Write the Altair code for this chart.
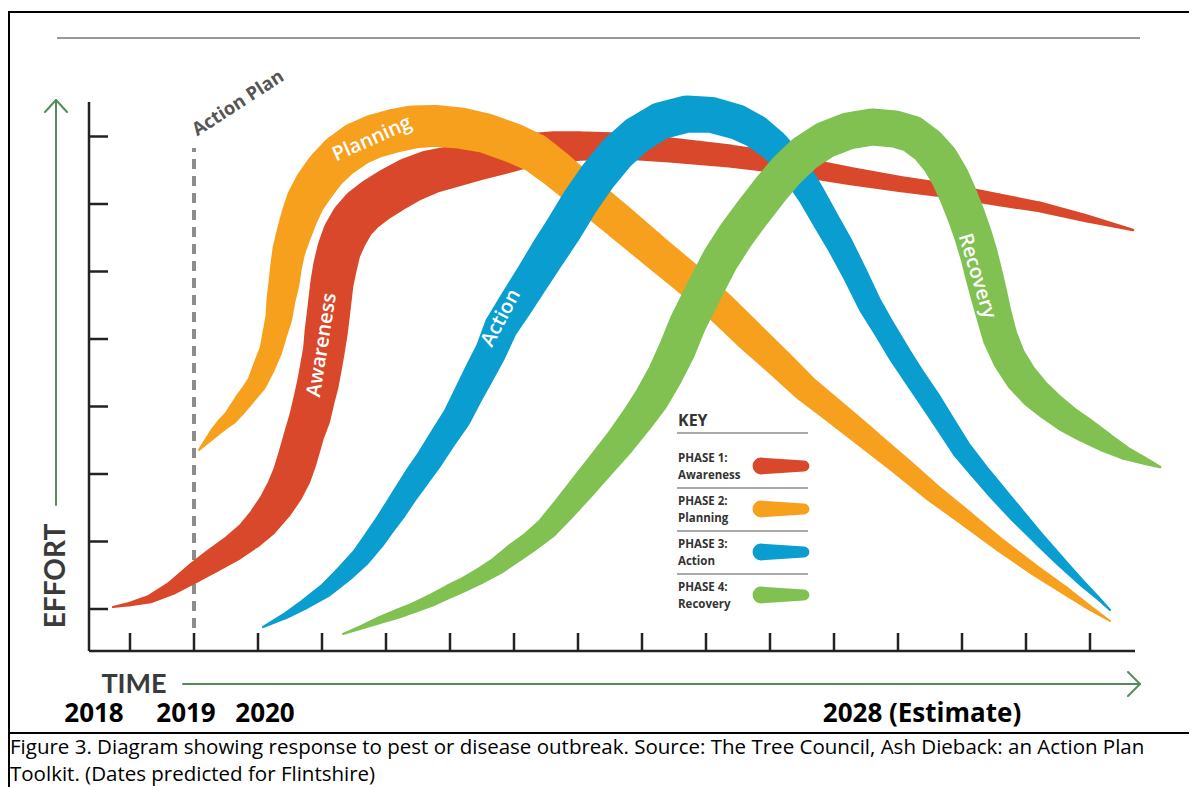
import altair as alt
import pandas as pd

# ---------------- data ----------------
phases = ["Awareness", "Planning", "Action", "Recovery"]
phase_colors = ["#D9482B", "#F6A01D", "#0A9DCF", "#80C152"]

# centre line of each band: time step (one per tick), effort level (one per tick), band thickness (effort units)
aw_time = [0.734, 1.0, 1.313, 1.656, 2.0, 2.313, 2.609, 2.875, 3.078, 3.281, 3.422, 3.531, 3.609, 3.672, 3.734,
           3.813, 3.875, 3.938, 3.984, 4.031, 4.063, 4.094, 4.125, 4.156, 4.203, 4.266, 4.359, 4.484, 4.641,
           4.844, 5.094, 5.375, 5.688, 6.078, 6.469, 6.859, 7.25, 7.641, 8.031, 8.5, 8.969, 9.438, 9.906,
           10.375, 10.844, 11.469, 12.25, 13.031, 13.813, 14.594, 15.219, 15.922, 16.672]
aw_effort = [1.030, 1.074, 1.148, 1.311, 1.533, 1.726, 1.904, 2.096, 2.289, 2.541, 2.763, 2.985, 3.207, 3.415,
             3.622, 3.844, 4.096, 4.348, 4.585, 4.837, 5.089, 5.326, 5.578, 5.830, 6.067, 6.319, 6.541, 6.748,
             6.911, 7.059, 7.207, 7.356, 7.474, 7.563, 7.652, 7.726, 7.8, 7.844, 7.859, 7.859, 7.844, 7.8,
             7.756, 7.711, 7.652, 7.548, 7.415, 7.296, 7.193, 7.059, 6.956, 6.793, 6.615]
aw_width = [0.03, 0.07, 0.13, 0.21, 0.30, 0.36, 0.40, 0.44, 0.49, 0.53, 0.56, 0.58, 0.59, 0.59, 0.59,
            0.61, 0.61, 0.62, 0.62, 0.62, 0.64, 0.64, 0.64, 0.64, 0.65, 0.65, 0.67, 0.67, 0.68,
            0.68, 0.68, 0.67, 0.65, 0.62, 0.59, 0.55, 0.50, 0.47, 0.44, 0.41, 0.40, 0.37, 0.36,
            0.34, 0.33, 0.30, 0.27, 0.24, 0.22, 0.19, 0.16, 0.12, 0.04]

pl_time = [2.078, 2.203, 2.328, 2.453, 2.578, 2.688, 2.781, 2.891, 2.984, 3.094, 3.203, 3.266, 3.328, 3.359,
           3.406, 3.438, 3.484, 3.563, 3.656, 3.75, 3.891, 4.063, 4.281, 4.547, 4.828, 5.109, 5.422, 5.766,
           6.156, 6.547, 6.984, 7.328, 7.641, 8.141, 8.656, 9.172, 9.703, 10.219, 10.688, 11.125, 11.547,
           12.016, 12.516, 13.031, 13.547, 14.078, 14.594, 15.109, 15.641, 16.0, 16.313]
pl_effort = [3.356, 3.489, 3.622, 3.741, 3.844, 3.978, 4.096, 4.230, 4.348, 4.585, 4.837, 5.089, 5.326, 5.578,
             5.830, 6.067, 6.319, 6.570, 6.837, 7.059, 7.281, 7.504, 7.711, 7.889, 8.007, 8.081, 8.141, 8.156,
             8.126, 8.052, 7.904, 7.756, 7.533, 7.133, 6.733, 6.319, 5.904, 5.474, 5.044, 4.659, 4.274,
             3.919, 3.533, 3.133, 2.719, 2.333, 1.948, 1.593, 1.252, 1.015, 0.822]
pl_width = [0.03, 0.09, 0.15, 0.19, 0.22, 0.25, 0.27, 0.28, 0.30, 0.33, 0.34, 0.37, 0.40, 0.43,
            0.46, 0.47, 0.49, 0.52, 0.55, 0.58, 0.61, 0.62, 0.64, 0.65, 0.65, 0.65, 0.64, 0.62,
            0.61, 0.59, 0.59, 0.58, 0.56, 0.53, 0.52, 0.50, 0.49, 0.47, 0.46, 0.43, 0.40,
            0.37, 0.34, 0.31, 0.28, 0.24, 0.20, 0.17, 0.13, 0.08, 0.03]

ac_time = [3.078, 3.422, 3.734, 4.063, 4.359, 4.609, 4.813, 5.0, 5.141, 5.313, 5.484, 5.672, 5.891, 6.109,
           6.281, 6.469, 6.641, 6.797, 7.047, 7.297, 7.531, 7.766, 8.031, 8.313, 8.609, 8.922, 9.281, 9.703,
           10.094, 10.484, 10.766, 11.031, 11.266, 11.469, 11.656, 11.859, 12.094, 12.328, 12.563, 12.797,
           13.031, 13.266, 13.5, 13.75, 14.0, 14.266, 14.516, 14.859, 15.219, 15.563, 15.891, 16.125, 16.313]
ac_effort = [0.733, 0.896, 1.074, 1.281, 1.533, 1.770, 2.022, 2.274, 2.467, 2.719, 2.956, 3.207, 3.533, 3.844,
             4.170, 4.511, 4.822, 5.178, 5.548, 5.919, 6.274, 6.615, 7.030, 7.415, 7.756, 8.022, 8.230, 8.333,
             8.319, 8.215, 8.081, 7.889, 7.667, 7.4, 7.119, 6.778, 6.393, 5.963, 5.504, 5.133,
             4.763, 4.422, 4.096, 3.726, 3.356, 3.044, 2.763, 2.393, 2.022, 1.681, 1.370, 1.163, 0.985]
ac_width = [0.03, 0.10, 0.16, 0.22, 0.27, 0.30, 0.33, 0.34, 0.36, 0.37, 0.39, 0.40, 0.41, 0.43,
            0.44, 0.46, 0.47, 0.50, 0.52, 0.53, 0.55, 0.56, 0.56, 0.56, 0.56, 0.56, 0.55, 0.55,
            0.53, 0.52, 0.50, 0.47, 0.44, 0.43, 0.41, 0.40, 0.39, 0.37, 0.36, 0.34,
            0.34, 0.33, 0.33, 0.31, 0.30, 0.28, 0.27, 0.24, 0.19, 0.15, 0.10, 0.06, 0.03]

rc_time = [4.328, 4.625, 4.906, 5.172, 5.422, 5.719, 6.0, 6.234, 6.469, 6.734, 6.984, 7.25, 7.516, 7.766,
           8.031, 8.344, 8.656, 8.938, 9.156, 9.359, 9.547, 9.719, 9.969, 10.219, 10.469, 10.734, 11.0,
           11.266, 11.547, 11.859, 12.219, 12.594, 12.953, 13.219, 13.469, 13.656, 13.813, 13.938, 14.063,
           14.172, 14.266, 14.344, 14.422, 14.5, 14.594, 14.734, 14.922, 15.141, 15.375, 15.641, 15.922,
           16.234, 16.547, 16.859, 17.094]
rc_effort = [0.630, 0.733, 0.837, 0.926, 1.015, 1.133, 1.267, 1.370, 1.489, 1.637, 1.815, 1.993, 2.2, 2.467,
             2.763, 3.119, 3.474, 3.830, 4.126, 4.467, 4.837, 5.237, 5.711, 6.170, 6.541, 6.881, 7.207,
             7.504, 7.756, 7.948, 8.081, 8.141, 8.111, 8.037, 7.859, 7.652, 7.4, 7.133, 6.837,
             6.541, 6.244, 5.948, 5.652, 5.356, 5.030, 4.719, 4.437, 4.2, 4.007, 3.815, 3.652,
             3.474, 3.311, 3.193, 3.104]
rc_width = [0.03, 0.07, 0.12, 0.15, 0.16, 0.19, 0.21, 0.22, 0.24, 0.27, 0.30, 0.31, 0.34, 0.37,
            0.40, 0.43, 0.46, 0.49, 0.52, 0.53, 0.55, 0.55, 0.55, 0.55, 0.55, 0.55, 0.55,
            0.55, 0.55, 0.55, 0.55, 0.55, 0.55, 0.55, 0.55, 0.56, 0.56, 0.56, 0.56,
            0.56, 0.56, 0.56, 0.55, 0.53, 0.52, 0.50, 0.49, 0.47, 0.44, 0.41, 0.37,
            0.30, 0.21, 0.12, 0.04]

x_ticks = list(range(1, 17))
y_ticks = list(range(1, 9))
year_labels = ["2018", "2019", "2020", "2028 (Estimate)"]
caption_lines = [
    "Figure 3. Diagram showing response to pest or disease outbreak. Source: The Tree Council, Ash Dieback: an Action Plan",
    "Toolkit. (Dates predicted for Flintshire)",
]

# ---------------- layout helpers (page pixels -> chart units) ----------------
def U(sx):
    return (sx - 66) / 64.0


def V(sy):
    return (676.5 - sy) / 67.5


W, H = 1181, 779
xs = alt.Scale(domain=[U(8), U(8 + W)], nice=False, zero=False)
ys = alt.Scale(domain=[V(8 + H), V(8)], nice=False, zero=False)
ws = alt.Scale(domain=[0, 1], range=[0, 67.5], zero=True)

X = lambda f: alt.X(f, type="quantitative", scale=xs, axis=None)
Y = lambda f: alt.Y(f, type="quantitative", scale=ys, axis=None)


def band(t, e, w, color):
    df = pd.DataFrame({"t": t, "e": e, "w": w, "i": list(range(len(t)))})
    return alt.Chart(df).mark_trail(color=color, opacity=1).encode(
        x=X("t"), y=Y("e"),
        size=alt.Size("w:Q", scale=ws, legend=None),
        order=alt.Order("i:Q"),
    )


def segs(rows, color, width, dash=None, cap="butt"):
    df = pd.DataFrame(rows, columns=["x", "y", "x2", "y2"])
    kw = dict(color=color, strokeWidth=width, strokeCap=cap)
    if dash:
        kw["strokeDash"] = dash
    return alt.Chart(df).mark_rule(**kw).encode(
        x=X("x"), y=Y("y"), x2=alt.X2("x2"), y2=alt.Y2("y2"))


def px_segs(rows, color, width, dash=None, cap="butt"):
    return segs([(U(a), V(b), U(c), V(d)) for a, b, c, d in rows], color, width, dash, cap)


def txt(text, sx, sy, size, color, weight="normal", angle=0, font="Open Sans", align="center"):
    df = pd.DataFrame({"x": [U(sx)], "y": [V(sy)], "t": [text]})
    kw = dict(font=font, fontSize=size, color=color, fontWeight=weight, align=align, baseline="middle")
    if angle:
        kw["angle"] = angle
    return alt.Chart(df).mark_text(**kw).encode(x=X("x"), y=Y("y"), text="t:N")


layers = []

# frame and header line
layers.append(px_segs([(8, 12, 1196, 12), (9, 12, 9, 790), (8, 733, 1196, 733)], "#000000", 2))
layers.append(px_segs([(57, 38, 1140, 38)], "#333333", 1.2))

# axes built from the tick arrays
ax_x0, ax_y0 = U(89), V(651)
axis_rows = [(ax_x0, ax_y0, ax_x0, V(102)), (ax_x0, ax_y0, U(1135), ax_y0)]
axis_rows += [(ax_x0, k, U(108), k) for k in y_ticks]
axis_rows += [(k, ax_y0, k, V(633)) for k in x_ticks]
layers.append(segs(axis_rows, "#222222", 2.5))

# action plan dashed marker
layers.append(segs([(2.0, V(628), 2.0, V(148))], "#8C8C8C", 4, dash=[10, 7]))

# green arrows
arrow_green = "#558B5B"
layers.append(px_segs([(56, 505, 56, 100), (45, 112, 56, 100), (67, 112, 56, 100),
                       (183, 684, 1140, 684), (1128, 672, 1140, 684), (1128, 696, 1140, 684)],
                      arrow_green, 2, cap="round"))

# bands (z-order: awareness, planning, action, recovery)
layers.append(band(aw_time, aw_effort, aw_width, phase_colors[0]))
layers.append(band(pl_time, pl_effort, pl_width, phase_colors[1]))
layers.append(band(ac_time, ac_effort, ac_width, phase_colors[2]))
layers.append(band(rc_time, rc_effort, rc_width, phase_colors[3]))

# band labels
layers.append(txt("Planning", 372, 139, 20, "#FFFFFF", 600, 336))
layers.append(txt("Awareness", 322, 345, 20, "#FFFFFF", 600, 279))
layers.append(txt("Action", 501, 318, 20, "#FFFFFF", 600, 298))
layers.append(txt("Recovery", 977, 276, 20, "#FFFFFF", 600, 73))
layers.append(txt("Action Plan", 238, 103, 18.5, "#555555", "bold", 327))

# axis titles
layers.append(txt("EFFORT", 57, 576, 28, "#3A3A3A", "bold", 270, font="Lato"))
layers.append(txt("TIME", 134, 685, 27, "#3A3A3A", "bold", font="Lato"))

# year labels
for lab, sx in zip(year_labels, [94, 186, 265, 922]):
    layers.append(txt(lab, sx, 714, 26, "#000000", "bold"))

# caption
for line, sy in zip(caption_lines, [748, 775]):
    layers.append(txt(line, 10, sy, 20.5, "#000000", "normal", align="left"))

# key
layers.append(txt("KEY", 678, 421, 16, "#333333", "bold", align="left"))
layers.append(px_segs([(677, 433, 808, 433), (677, 488, 808, 488), (677, 531, 808, 531), (677, 574, 808, 574)],
                      "#555555", 1.2))
key_rows = [459, 502, 545, 588]
for k, (name, sy) in enumerate(zip(phases, key_rows)):
    layers.append(txt(f"PHASE {k + 1}:", 678, sy, 11.5, "#333333", "bold", align="left"))
    layers.append(txt(name, 678, sy + 17, 11.5, "#333333", "bold", align="left"))
    cy = V(sy + 7)
    sw = pd.DataFrame({"t": [U(761), U(804)], "e": [cy, cy], "w": [0.25, 0.16], "i": [0, 1]})
    layers.append(alt.Chart(sw).mark_trail(color=phase_colors[k]).encode(
        x=X("t"), y=Y("e"), size=alt.Size("w:Q", scale=ws, legend=None), order=alt.Order("i:Q")))

chart = alt.layer(*layers).properties(
    width=W, height=H, padding=0, autosize="none", background="white"
).configure_view(stroke=None)

chart.save("out.html", embed_options={"renderer": "svg", "actions": False})
